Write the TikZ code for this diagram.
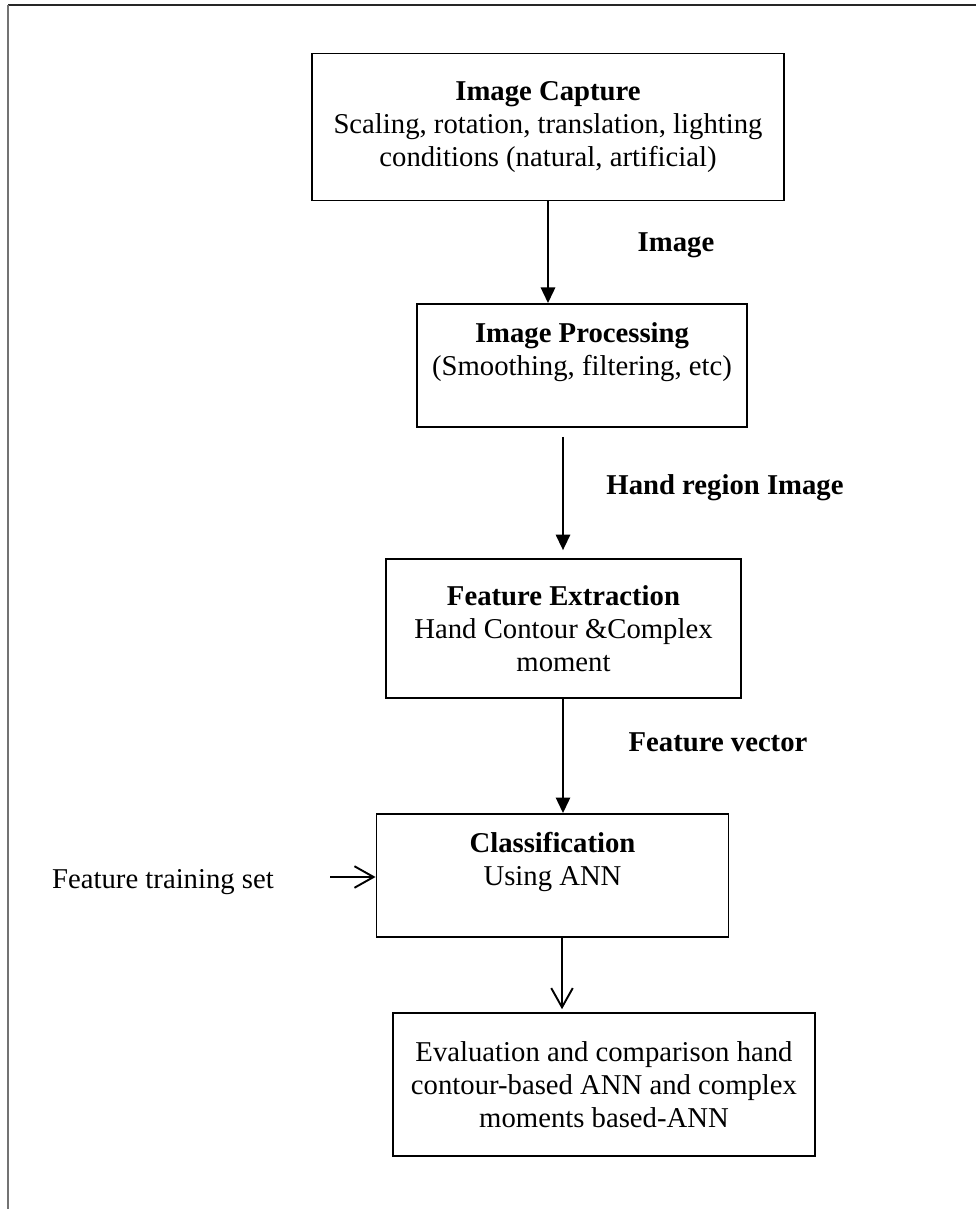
\documentclass[tikz,border=0pt]{standalone}
\usepackage{fontspec}
\setmainfont{Liberation Serif}
\usetikzlibrary{arrows.meta}
\newlength\pxu
\setlength\pxu{0.418pt}
\tikzset{
  stage/.style={draw=black,line width=0.8pt,inner sep=0pt,align=center,font=\fontsize{12}{13.8}\selectfont},
  steplabel/.style={font=\fontsize{12}{13.8}\selectfont\bfseries,inner sep=1pt},
  sidelabel/.style={font=\fontsize{12}{13.8}\selectfont,inner sep=1pt},
  solidflow/.style={-{Triangle[length=6.5pt,width=6pt]},line width=0.8pt},
  openflow/.style={-{Straight Barb[length=8pt,width=9pt]},line width=0.8pt}
}
\begin{document}
\begin{tikzpicture}[x=\pxu,y=-\pxu]
  \useasboundingbox (0,0) rectangle (976,1209);
  % page frame (top and left edge only)
  \draw[black!85,line width=0.6pt] (8,5) -- (976,5);
  \draw[black!55,line width=0.6pt] (8,5) -- (8,1209);
  % stages
  \node[stage,minimum width=472*\pxu,minimum height=147*\pxu] (cap) at (548,127)
    {\textbf{Image Capture}\\Scaling, rotation, translation, lighting\\conditions (natural, artificial)};
  \node[stage,minimum width=330*\pxu,minimum height=123*\pxu] (proc) at (582,365.5)
    {\textbf{Image Processing}\\(Smoothing, filtering, etc)\\};
  \node[stage,minimum width=355*\pxu,minimum height=139*\pxu] (feat) at (563.5,628.5)
    {\textbf{Feature Extraction}\\Hand Contour \&Complex\\moment};
  \node[stage,minimum width=352*\pxu,minimum height=123*\pxu] (cls) at (552.5,875.5)
    {\textbf{Classification}\\Using ANN\\};
  \node[stage,minimum width=422*\pxu,minimum height=143*\pxu] (eval) at (604,1084.5)
    {Evaluation and comparison hand\\contour-based ANN and complex\\moments based-ANN};
  % labels on the flow
  \node[steplabel] (lbimg) at (676,245) {Image};
  \node[steplabel] (lbhand) at (725,488) {Hand region Image};
  \node[steplabel] (lbvec) at (718,742) {Feature vector};
  \node[sidelabel] (train) at (163,882) {Feature training set};
  % arrows
  \coordinate (ax1) at (548,0);
  \coordinate (ax2) at (563,0);
  \coordinate (ax3) at (562,0);
  \coordinate (trainend) at (330,877);
  \draw[solidflow] (cap.south -| ax1) -- (proc.north -| ax1);
  \draw[solidflow,shorten <=3.7pt,shorten >=3.3pt] (proc.south -| ax2) -- (feat.north -| ax2);
  \draw[solidflow] (feat.south -| ax2) -- (cls.north -| ax2);
  \draw[openflow,shorten >=1.2pt] (cls.south -| ax3) -- (eval.north -| ax3);
  \draw[openflow] (trainend) -- (trainend -| cls.west);
\end{tikzpicture}
\end{document}
